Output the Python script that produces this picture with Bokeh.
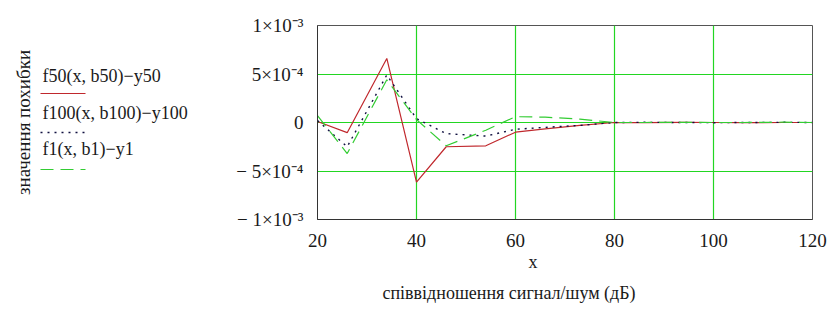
import math
from bokeh.plotting import figure
from bokeh.layouts import row
from bokeh.models import Range1d, FixedTicker, CustomJSTickFormatter, Title
from bokeh.core.properties import value
from bokeh.embed import file_html
from bokeh.resources import INLINE

# ---- data ----
x_snr = [20, 26, 34, 40, 46, 54, 60, 66, 73, 80, 86, 94, 100, 106, 114, 120]
err_f50 = [0.1e-4, -1.05e-4, 6.6e-4, -6.15e-4, -2.5e-4, -2.4e-4, -1.0e-4, -0.65e-4,
           -0.3e-4, 0.0, -0.02e-4, 0.02e-4, 0.0, -0.02e-4, 0.0, 0.0]
err_f100 = [0.2e-4, -2.5e-4, 4.9e-4, 0.4e-4, -1.15e-4, -1.4e-4, -0.7e-4, -0.5e-4,
            -0.3e-4, 0.0, 0.02e-4, 0.0, -0.02e-4, 0.0, 0.02e-4, 0.0]
err_f1 = [0.7e-4, -3.2e-4, 4.4e-4, 0.3e-4, -2.4e-4, -0.8e-4, 0.6e-4, 0.55e-4,
          0.35e-4, 0.0, 0.0, 0.02e-4, 0.0, 0.0, 0.03e-4, 0.0]

series_names = ["f50(x, b50)\u2212y50", "f100(x, b100)\u2212y100", "f1(x, b1)\u2212y1"]
x_ticks = [20, 40, 60, 80, 100, 120]
y_ticks = [-1e-3, -5e-4, 0.0, 5e-4, 1e-3]
y_tick_labels = ["\u2212 1\u00d710\u207b\u00b3", "\u2212 5\u00d710\u207b\u2074", "0",
                 "5\u00d710\u207b\u2074", "1\u00d710\u207b\u00b3"]
y_axis_title = "значення похибки"
x_axis_title = "x"
x_subtitle = "співвідношення сигнал/шум (дБ)"

FONT = "Liberation Serif, Times New Roman, serif"
TXT = "#1a1a1a"
GRID = "#22d622"
styles = [
    dict(line_color="#c0282d", line_width=1.2, line_dash="solid"),
    dict(line_color="#101040", line_width=1.4, line_dash="2 5"),
    dict(line_color="#33cc33", line_width=1.2, line_dash="13 7"),
]

H = 312
LW = 223
MW = 609
TOP, BOTTOM = 25, 93   # frame top / bottom borders (page px)

# ---- legend / left panel (coordinates = page pixels) ----
leg = figure(width=LW, height=H, x_range=Range1d(0, LW), y_range=Range1d(H - BOTTOM, TOP),
             toolbar_location=None, output_backend="svg", min_border_left=0,
             min_border_right=0, min_border_top=TOP, min_border_bottom=BOTTOM,
             title=None, x_axis_location=None, y_axis_location=None)
leg.grid.visible = False
leg.outline_line_color = None

leg.text(x=[23], y=[122], text=[y_axis_title], angle=math.pi / 2,
         text_align="center", text_baseline="middle",
         text_font=value(FONT), text_font_size="19px", text_color=TXT)

text_rows = [75, 112, 148]
line_rows = [93, 132, 169]
for name, ty, ly, st in zip(series_names, text_rows, line_rows, styles):
    leg.text(x=[42], y=[ty], text=[name], text_align="left", text_baseline="middle",
             text_font=value(FONT), text_font_size="18px", text_color=TXT)
    leg.line(x=[40, 85], y=[ly, ly], **st)

# ---- main plot ----
p = figure(width=MW, height=H, x_range=Range1d(20, 120), y_range=Range1d(-1e-3, 1e-3),
           toolbar_location=None, output_backend="svg", title=None,
           min_border_left=94, min_border_right=20, min_border_top=TOP, min_border_bottom=BOTTOM)
p.outline_line_color = "#555555"
p.xaxis.ticker = FixedTicker(ticks=x_ticks)
p.yaxis.ticker = FixedTicker(ticks=y_ticks)
p.yaxis.formatter = CustomJSTickFormatter(args=dict(tv=y_ticks, lab=y_tick_labels), code="""
    for (let i = 0; i < tv.length; i++) {
        if (Math.abs(tv[i] - tick) < 1e-9) { return lab[i]; }
    }
    return "";
""")
for ax in (p.xaxis[0], p.yaxis[0]):
    ax.major_tick_line_color = None
    ax.minor_tick_line_color = None
    ax.axis_line_color = "#333333"
    ax.major_label_text_font = FONT
    ax.major_label_text_font_size = "19px"
    ax.major_label_text_color = TXT
    ax.major_label_standoff = 8
p.xgrid.grid_line_color = GRID
p.ygrid.grid_line_color = GRID
p.xgrid.grid_line_width = 1.2
p.ygrid.grid_line_width = 1.2

for ys, st in zip([err_f50, err_f100, err_f1], styles):
    p.line(x_snr, ys, **st)

p.add_layout(Title(text=x_axis_title, align="left", offset=211, standoff=0,
                   text_font=FONT, text_font_size="18px", text_font_style="normal",
                   text_color=TXT), "below")
p.add_layout(Title(text=x_subtitle, align="left", offset=65, standoff=18,
                   text_font=FONT, text_font_size="18px", text_font_style="normal",
                   text_color=TXT), "below")

layout = row(leg, p)
open("out.html", "w").write(file_html(layout, INLINE))
